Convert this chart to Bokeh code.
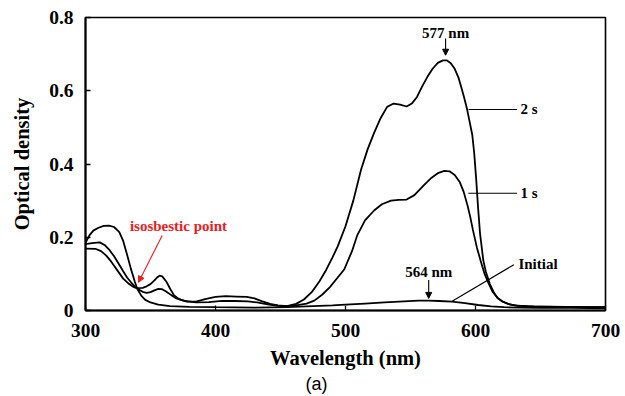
from bokeh.plotting import figure
from bokeh.models import Range1d, FixedTicker, NumeralTickFormatter, Label, Arrow, NormalHead, Title
from bokeh.embed import file_html
from bokeh.resources import INLINE

# Absorption spectra: wavelength (nm) and optical density for each irradiation time
wl_initial = [300, 303, 306, 310, 314, 318, 322, 326, 329, 332, 335, 338, 340, 343, 346, 350,
              356, 365, 380, 400, 430, 455, 475, 490, 500, 515, 530, 545, 556, 564, 572, 582,
              592, 602, 612, 622, 635, 650, 675, 700]
od_initial = [0.185, 0.205, 0.218, 0.226, 0.231, 0.232, 0.228, 0.214, 0.190, 0.152, 0.113, 0.078,
              0.058, 0.040, 0.029, 0.022, 0.016, 0.012, 0.010, 0.009, 0.008, 0.009, 0.012, 0.014,
              0.016, 0.019, 0.022, 0.025, 0.027, 0.027, 0.026, 0.024, 0.020, 0.015, 0.011, 0.009,
              0.008, 0.007, 0.007, 0.006]

wl_1s = [300, 305, 311, 315, 318, 322, 326, 329, 332, 335, 338, 341, 344, 347, 350, 353, 356,
         359, 362, 366, 370, 376, 385, 395, 405, 415, 425, 432, 440, 448, 455, 462, 470, 476,
         482, 488, 494, 499, 505, 509, 515, 522, 528, 535, 541, 547, 553, 560, 566, 571, 576,
         580, 584, 588, 591, 594, 596, 598, 601, 604, 607, 610, 613, 617, 621, 625, 630, 640,
         660, 700]
od_1s = [0.181, 0.184, 0.186, 0.178, 0.167, 0.148, 0.125, 0.107, 0.090, 0.077, 0.065, 0.057,
         0.051, 0.048, 0.050, 0.055, 0.059, 0.058, 0.052, 0.042, 0.033, 0.026, 0.022, 0.023,
         0.026, 0.026, 0.025, 0.022, 0.017, 0.013, 0.012, 0.014, 0.019, 0.027, 0.043, 0.064,
         0.090, 0.112, 0.162, 0.205, 0.246, 0.273, 0.290, 0.300, 0.302, 0.303, 0.315, 0.341,
         0.362, 0.375, 0.381, 0.380, 0.370, 0.350, 0.323, 0.285, 0.255, 0.220, 0.173, 0.135,
         0.100, 0.075, 0.052, 0.034, 0.024, 0.018, 0.014, 0.011, 0.010, 0.009]

wl_2s = [300, 308, 312, 316, 319, 322, 326, 329, 333, 337, 340, 344, 347, 350, 353, 355, 357,
         359, 362, 365, 368, 372, 378, 385, 392, 400, 408, 416, 424, 430, 436, 442, 448, 455,
         462, 468, 474, 480, 485, 490, 494, 500, 506, 512, 517, 522, 527, 532, 537, 542, 547,
         551, 555, 559, 563, 567, 571, 575, 578, 581, 584, 587, 589, 591, 593.5, 595.5, 597.5,
         599, 600.5, 602, 603.5, 606, 608, 611, 614, 617, 621, 626, 632, 645, 670, 700]
od_2s = [0.169, 0.168, 0.162, 0.150, 0.137, 0.122, 0.102, 0.087, 0.074, 0.064, 0.061, 0.062,
         0.066, 0.072, 0.082, 0.090, 0.095, 0.093, 0.080, 0.060, 0.042, 0.031, 0.024, 0.024,
         0.031, 0.037, 0.039, 0.038, 0.037, 0.033, 0.025, 0.018, 0.014, 0.012, 0.018, 0.030,
         0.050, 0.080, 0.110, 0.145, 0.175, 0.230, 0.300, 0.385, 0.440, 0.485, 0.525, 0.556,
         0.565, 0.562, 0.557, 0.565, 0.583, 0.612, 0.638, 0.660, 0.676, 0.683, 0.683, 0.675,
         0.660, 0.635, 0.610, 0.585, 0.550, 0.515, 0.480, 0.430, 0.360, 0.280, 0.210, 0.137,
         0.105, 0.073, 0.050, 0.034, 0.024, 0.017, 0.013, 0.011, 0.010, 0.009]

x_ticks = [300, 400, 500, 600, 700]
y_ticks = [0, 0.2, 0.4, 0.6, 0.8]

SERIF = "Liberation Serif"

p = figure(width=625, height=396, output_backend="svg", toolbar_location=None,
           x_range=Range1d(300, 700), y_range=Range1d(0, 0.8),
           min_border_left=85, min_border_right=20, min_border_top=17, min_border_bottom=86,
           background_fill_color="white", border_fill_color="white")

p.grid.visible = False
p.outline_line_color = "black"
p.outline_line_width = 1.6

for ax in (p.xaxis[0], p.yaxis[0]):
    ax.axis_line_width = 2
    ax.major_tick_in = 5
    ax.major_tick_out = 0
    ax.major_tick_line_width = 1.3
    ax.minor_tick_line_color = None
    ax.major_label_text_font = SERIF
    ax.major_label_text_font_style = "bold"
    ax.major_label_text_font_size = "19.5px"
    ax.major_label_text_color = "black"
    ax.axis_label_text_font = SERIF
    ax.axis_label_text_font_style = "bold"
    ax.axis_label_text_font_size = "20.5px"
    ax.axis_label_text_color = "black"

p.xaxis.ticker = FixedTicker(ticks=x_ticks)
p.yaxis.ticker = FixedTicker(ticks=y_ticks)
p.yaxis.formatter = NumeralTickFormatter(format="0.[0]")
p.xaxis.axis_label = "Wavelength (nm)"
p.yaxis.axis_label = "Optical density"
p.xaxis.major_label_standoff = 13
p.yaxis.major_label_standoff = 12
p.xaxis.axis_label_standoff = 7
p.yaxis.axis_label_standoff = 13

line_kw = dict(line_color="black", line_width=1.8)
p.line(wl_initial, od_initial, **line_kw)
p.line(wl_1s, od_1s, **line_kw)
p.line(wl_2s, od_2s, **line_kw)

# Leader lines for the series names
p.segment(x0=[594.6, 594.5, 582], y0=[0.549, 0.320, 0.025],
          x1=[632, 632, 629.5], y1=[0.549, 0.320, 0.125],
          line_color="black", line_width=1.1)

ann = dict(text_font=SERIF, text_font_style="bold", text_font_size="15px",
           text_color="black", text_baseline="middle")
p.add_layout(Label(x=634.6, y=0.549, text="2 s", **ann))
p.add_layout(Label(x=634.6, y=0.320, text="1 s", **ann))
p.add_layout(Label(x=633, y=0.126, text="Initial", **ann))
p.add_layout(Label(x=577, y=0.757, text="577 nm", text_align="center", **ann))
p.add_layout(Label(x=564, y=0.105, text="564 nm", text_align="center", **ann))

# Peak markers
for xa, y_start, y_end in [(577, 0.743, 0.697), (564, 0.083, 0.033)]:
    p.add_layout(Arrow(x_start=xa, y_start=y_start, x_end=xa, y_end=y_end,
                       line_color="black", line_width=1.1,
                       end=NormalHead(size=6, fill_color="black", line_color="black")))

# Isosbestic point callout
red = "#ec1c24"
p.add_layout(Label(x=371.5, y=0.230, text="isosbestic point", text_align="center",
                   text_font=SERIF, text_font_style="bold", text_font_size="15px",
                   text_color=red, text_baseline="middle"))
p.add_layout(Arrow(x_start=359, y_start=0.205, x_end=340.8, y_end=0.077,
                   line_color=red, line_width=1.1,
                   end=NormalHead(size=6, fill_color=red, line_color=red)))

# Panel tag under the axis title
p.add_layout(Title(text="(a)", align="left", offset=220, standoff=0,
                   text_font="Liberation Sans", text_font_size="18px",
                   text_font_style="normal", text_color="black"), "below")

open("out.html", "w").write(file_html(p, INLINE))
